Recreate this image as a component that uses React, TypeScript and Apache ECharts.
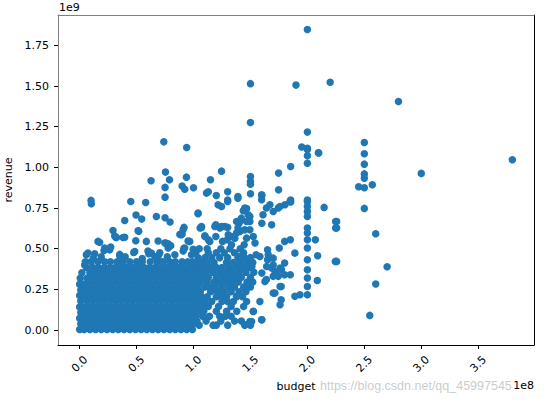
import React, { useEffect, useRef } from "react";
import * as echarts from "echarts";

// budget in units of 1e8, revenue in units of 1e9
const xTicks = [0, 0.5, 1, 1.5, 2, 2.5, 3, 3.5];
const yTicks = [0, 0.25, 0.5, 0.75, 1, 1.25, 1.5, 1.75];
const xRange = [-0.19, 3.99];
const yRange = [-0.092, 1.937];

// dense core (budget 0 - 1.0, revenue 0 - 0.38), read as rows
const coreRevenue = [0.004, 0.038, 0.072, 0.108, 0.142, 0.178, 0.212, 0.246, 0.282, 0.318, 0.352, 0.384];
const coreBudget = [
  [0, 0.04, 0.09, 0.14, 0.19, 0.24, 0.29, 0.34, 0.39, 0.44, 0.49, 0.54, 0.59, 0.64, 0.69, 0.74, 0.79, 0.84, 0.89, 0.94, 0.99],
  [0.01, 0.065, 0.115, 0.165, 0.215, 0.265, 0.315, 0.365, 0.415, 0.465, 0.515, 0.565, 0.615, 0.665, 0.715, 0.765, 0.815, 0.865, 0.915, 0.965, 1.0],
  [0, 0.04, 0.09, 0.14, 0.19, 0.24, 0.29, 0.34, 0.39, 0.44, 0.49, 0.54, 0.59, 0.64, 0.69, 0.74, 0.79, 0.84, 0.89, 0.94, 0.99],
  [0.01, 0.065, 0.115, 0.165, 0.215, 0.265, 0.315, 0.365, 0.415, 0.465, 0.515, 0.565, 0.615, 0.665, 0.715, 0.765, 0.815, 0.865, 0.915, 0.965, 1.0],
  [0, 0.04, 0.09, 0.14, 0.19, 0.24, 0.29, 0.34, 0.39, 0.44, 0.49, 0.54, 0.59, 0.64, 0.69, 0.74, 0.79, 0.84, 0.89, 0.94, 0.99],
  [0.01, 0.065, 0.115, 0.165, 0.215, 0.265, 0.315, 0.365, 0.415, 0.465, 0.515, 0.565, 0.615, 0.665, 0.715, 0.765, 0.815, 0.865, 0.915, 0.965, 1.0],
  [0, 0.04, 0.09, 0.14, 0.19, 0.24, 0.29, 0.34, 0.39, 0.44, 0.49, 0.54, 0.59, 0.64, 0.69, 0.74, 0.79, 0.84, 0.89, 0.94, 0.99],
  [0.01, 0.065, 0.115, 0.165, 0.215, 0.265, 0.315, 0.365, 0.415, 0.465, 0.515, 0.565, 0.615, 0.665, 0.715, 0.765, 0.815, 0.865, 0.915, 0.965, 1.0],
  [0, 0.04, 0.09, 0.14, 0.19, 0.24, 0.29, 0.34, 0.39, 0.44, 0.49, 0.54, 0.59, 0.64, 0.69, 0.74, 0.79, 0.84, 0.89, 0.94, 0.99],
  [0.005, 0.065, 0.115, 0.165, 0.215, 0.265, 0.315, 0.365, 0.415, 0.465, 0.515, 0.565, 0.615, 0.665, 0.715, 0.765, 0.815, 0.865, 0.915, 0.965, 1.0],
  [0.02, 0.09, 0.14, 0.19, 0.24, 0.29, 0.34, 0.39, 0.44, 0.49, 0.54, 0.59, 0.64, 0.69, 0.74, 0.79, 0.84, 0.89, 0.94, 0.99],
  [0.06, 0.115, 0.165, 0.215, 0.265, 0.315, 0.365, 0.415, 0.465, 0.515, 0.565, 0.615, 0.665, 0.715, 0.765, 0.815, 0.865, 0.915, 0.965, 1.0],
];

// upper fringe of the core (revenue 0.4 - 0.65)
const fringePoints = [
  [0.05, 0.42], [0.1, 0.42], [0.16, 0.42], [0.22, 0.42], [0.27, 0.42], [0.33, 0.42], [0.38, 0.42], [0.44, 0.42],
  [0.5, 0.42], [0.55, 0.42], [0.62, 0.42], [0.68, 0.42], [0.73, 0.42], [0.79, 0.42], [0.84, 0.42], [0.9, 0.42],
  [0.95, 0.42], [0.99, 0.42], [0.044, 0.4], [0.059, 0.463], [0.073, 0.473], [0.132, 0.469], [0.214, 0.489],
  [0.264, 0.493], [0.273, 0.51], [0.352, 0.457], [0.352, 0.465], [0.475, 0.477], [0.484, 0.483], [0.6, 0.486],
  [0.607, 0.469], [0.63, 0.473], [0.66, 0.452], [0.689, 0.452], [0.704, 0.475], [0.777, 0.504], [0.836, 0.463],
  [0.909, 0.486], [0.915, 0.502], [0.923, 0.504], [0.982, 0.463], [0.997, 0.496], [0.4, 0.45], [0.55, 0.44],
  [0.77, 0.45], [0.19, 0.45], [0.12, 0.44], [0.22, 0.504], [0.161, 0.545], [0.176, 0.539], [0.323, 0.569],
  [0.381, 0.569], [0.317, 0.571], [0.396, 0.571], [0.308, 0.578], [0.293, 0.612], [0.519, 0.608], [0.513, 0.61],
  [0.493, 0.549], [0.586, 0.545], [0.689, 0.547], [0.748, 0.535], [0.756, 0.535], [0.777, 0.53], [0.8, 0.518],
  [0.894, 0.586], [0.88, 0.588], [0.9, 0.59], [0.909, 0.618], [0.917, 0.631], [0.952, 0.547], [0.967, 0.545],
];

// semi-dense block (budget 1.0 - 1.55, revenue 0 - 0.5)
const midRevenue = [0.03, 0.055, 0.085, 0.115, 0.145, 0.175, 0.205, 0.235, 0.265, 0.295, 0.325, 0.355, 0.385, 0.415, 0.445, 0.475, 0.5];
const midBudget = [
  [1.05, 1.172, 1.2, 1.3, 1.45, 1.5],
  [1.03, 1.11, 1.24, 1.36, 1.42],
  [1.02, 1.08, 1.14, 1.23, 1.28, 1.33],
  [1.04, 1.09, 1.2, 1.29, 1.38, 1.525],
  [1.02, 1.07, 1.13, 1.22, 1.33, 1.44],
  [1.05, 1.1, 1.16, 1.25, 1.3, 1.35, 1.466, 1.583],
  [1.03, 1.07, 1.12, 1.2, 1.24, 1.29, 1.378, 1.43],
  [1.02, 1.06, 1.15, 1.21, 1.27, 1.33, 1.4, 1.46],
  [1.04, 1.1, 1.14, 1.19, 1.25, 1.31, 1.36, 1.44, 1.5],
  [1.02, 1.06, 1.12, 1.18, 1.22, 1.28, 1.34, 1.393, 1.47, 1.52],
  [1.04, 1.09, 1.13, 1.2, 1.26, 1.3, 1.37, 1.42, 1.5],
  [1.02, 1.06, 1.11, 1.17, 1.23, 1.28, 1.34, 1.4, 1.46, 1.53],
  [1.03, 1.08, 1.14, 1.2, 1.25, 1.31, 1.37, 1.43, 1.49],
  [1.02, 1.07, 1.12, 1.18, 1.29, 1.35, 1.41, 1.47, 1.52],
  [1.04, 1.1, 1.16, 1.23, 1.3, 1.39, 1.45, 1.5],
  [1.02, 1.13, 1.2, 1.27, 1.36, 1.44],
  [1.05, 1.12, 1.24, 1.32, 1.41],
];

// scattered points
const sparsePoints = [
  [0.739, 1.157], [0.94, 1.122], [0.754, 0.971], [0.938, 0.94], [0.627, 0.918], [0.789, 0.924], [0.75, 0.877],
  [0.9, 0.885], [0.923, 0.866], [1.0, 0.875], [0.75, 0.817], [0.1, 0.797], [0.103, 0.776], [0.449, 0.79],
  [0.58, 0.784], [0.396, 0.674], [0.495, 0.707], [0.545, 0.682], [0.674, 0.698], [0.75, 0.69], [0.794, 0.664],
  [1.04, 0.715], [1.07, 0.631], [1.058, 0.627], [1.04, 0.719],
  [1.114, 0.842], [1.2, 0.827], [1.3, 0.85], [1.39, 0.821], [1.246, 0.977], [1.149, 0.924], [1.13, 0.85],
  [1.246, 0.76], [1.3, 0.79], [1.196, 0.647], [1.246, 0.637], [1.3, 0.631], [1.196, 0.575], [1.1, 0.58],
  [1.13, 0.555], [1.255, 0.545], [1.296, 0.555], [1.334, 0.575], [1.378, 0.596], [1.407, 0.606], [1.437, 0.733],
  [1.466, 0.747], [1.495, 0.698], [1.495, 0.667], [1.416, 0.678], [1.4, 0.657], [1.495, 0.616], [1.525, 0.575],
  [1.54, 0.535], [1.216, 0.77], [1.39, 0.81], [1.45, 0.75], [1.48, 0.709], [1.466, 0.667], [1.42, 0.688],
  [1.378, 0.667], [1.39, 0.627], [1.45, 0.616], [1.466, 0.565], [1.445, 0.524], [1.07, 0.637], [1.1, 0.575],
  [1.143, 0.545], [1.187, 0.637], [1.231, 0.627], [1.275, 0.637], [1.305, 0.586], [1.363, 0.565], [1.334, 0.524],
  [1.3, 0.8], [1.5, 1.515], [1.5, 1.276], [1.5, 0.944], [1.5, 0.913], [1.5, 0.897], [1.5, 0.838], [1.6, 0.827],
  [1.598, 0.832], [1.598, 0.801], [1.671, 0.77], [1.7, 0.729], [1.759, 0.76], [1.803, 0.77], [1.847, 0.79],
  [1.747, 0.965], [1.747, 0.862], [1.853, 1.006], [1.95, 1.125], [2.1, 1.088], [2.0, 1.848], [1.9, 1.506],
  [2.2, 1.524], [2.096, 1.09], [1.61, 0.709], [1.6, 0.657], [1.686, 0.647], [1.64, 0.75], [1.744, 0.75],
  [1.853, 0.787], [1.853, 0.8], [2.147, 0.754], [2.248, 0.667], [2.248, 0.627], [2.245, 0.422], [2.07, 0.555],
  [2.09, 0.457], [2.087, 0.305], [1.753, 0.504], [1.8, 0.545], [1.85, 0.555], [1.89, 0.473], [1.8, 0.412],
  [1.76, 0.381], [1.65, 0.493], [1.65, 0.432], [1.6, 0.35], [1.7, 0.33], [1.76, 0.268], [1.7, 0.227],
  [1.76, 0.156], [1.89, 0.207], [1.935, 0.217], [1.513, 0.391], [1.583, 0.452], [1.395, 0.452], [1.407, 0.412],
  [1.334, 0.33], [1.378, 0.207], [1.525, 0.114], [1.598, 0.063], [1.451, 0.033], [1.495, 0.053],
  [1.773, 0.371], [1.8, 0.34], [1.744, 0.33], [1.715, 0.36], [1.686, 0.381], [1.642, 0.391], [1.627, 0.299],
  [1.64, 0.31], [1.7, 0.4], [1.73, 0.34], [1.77, 0.268], [1.715, 0.227], [1.77, 0.186], [1.85, 0.34],
  [1.656, 0.463], [1.7, 0.442], [1.55, 0.463], [1.51, 0.053], [1.6, 0.063],
  [2.5, 1.153], [2.5, 1.084], [2.5, 1.02], [2.5, 0.96], [2.5, 0.934], [2.5, 0.875], [2.45, 0.881], [2.57, 0.893],
  [2.5, 0.748], [2.8, 1.405], [3.8, 1.047], [3.0, 0.963], [2.257, 0.667], [2.257, 0.627], [2.6, 0.592],
  [2.257, 0.422], [2.7, 0.389], [2.6, 0.283], [2.548, 0.09],
];

// the many films with a budget of exactly 2.0e8
const budget2Revenue = [1.217, 1.11, 1.118, 1.071, 1.026, 0.8, 0.79, 0.76, 0.729, 0.698, 0.627, 0.596, 0.555, 0.504, 0.432, 0.371, 0.32, 0.268, 0.217];

const FONT = "DejaVu Sans";

export default function App() {
  const ref = useRef<HTMLDivElement>(null);
  useEffect(() => {
    if (!ref.current) return;
    const chart = echarts.init(ref.current, null, { renderer: "svg" });
    const data: number[][] = [];
    coreBudget.forEach((row, i) => row.forEach((b) => data.push([b, coreRevenue[i]])));
    fringePoints.forEach((p) => data.push(p));
    midBudget.forEach((row, i) => row.forEach((b) => data.push([b, midRevenue[i]])));
    sparsePoints.forEach((p) => data.push(p));
    budget2Revenue.forEach((r) => data.push([2.0, r]));

    const tickLabel = { fontSize: 11, color: "#000", fontFamily: FONT };
    chart.setOption({
      animation: false,
      backgroundColor: "#fff",
      grid: { left: 58, right: 10, top: 15, bottom: 58, containLabel: false, outerBoundsMode: "none" },
      xAxis: [
        {
          type: "value",
          min: xRange[0],
          max: xRange[1],
          position: "bottom",
          name: "budget",
          nameLocation: "middle",
          nameGap: 35,
          nameTextStyle: { fontSize: 11, color: "#000", fontFamily: FONT },
          axisLine: { show: true, onZero: false, lineStyle: { color: "#000", width: 1 } },
          axisTick: { show: true, length: 4, customValues: xTicks, lineStyle: { color: "#000" } },
          axisLabel: {
            ...tickLabel,
            customValues: xTicks,
            rotate: 45,
            align: "center",
            verticalAlign: "middle",
            margin: 19,
            formatter: (v: number) => v.toFixed(1),
          },
          splitLine: { show: false },
        },
        {
          type: "value",
          min: xRange[0],
          max: xRange[1],
          position: "top",
          axisLine: { show: true, onZero: false, lineStyle: { color: "#808080", width: 1 } },
          axisTick: { show: false },
          axisLabel: { show: false },
          splitLine: { show: false },
        },
      ],
      yAxis: [
        {
          type: "value",
          min: yRange[0],
          max: yRange[1],
          position: "left",
          name: "revenue",
          nameLocation: "middle",
          nameGap: 42,
          nameTextStyle: { fontSize: 11, color: "#000", fontFamily: FONT },
          axisLine: { show: true, onZero: false, lineStyle: { color: "#808080", width: 1 } },
          axisTick: { show: true, length: 4, customValues: yTicks, lineStyle: { color: "#000" } },
          axisLabel: {
            ...tickLabel,
            customValues: yTicks,
            margin: 9,
            formatter: (v: number) => v.toFixed(2),
          },
          splitLine: { show: false },
        },
        {
          type: "value",
          min: yRange[0],
          max: yRange[1],
          position: "right",
          axisLine: { show: true, onZero: false, lineStyle: { color: "#000", width: 1 } },
          axisTick: { show: false },
          axisLabel: { show: false },
          splitLine: { show: false },
        },
      ],
      graphic: [
        {
          type: "text",
          left: 59,
          top: 2,
          style: { text: "1e9", fontSize: 11, fill: "#000", fontFamily: FONT },
        },
        {
          type: "text",
          right: 10,
          top: 380,
          style: { text: "1e8", fontSize: 11, fill: "#000", fontFamily: FONT },
        },
        {
          type: "text",
          left: 320,
          top: 379,
          z: -1,
          style: {
            text: "https://blog.csdn.net/qq_45997545",
            fontSize: 12.5,
            fill: "rgba(150,150,150,0.5)",
            fontFamily: "Liberation Sans",
          },
        },
      ],
      series: [
        {
          type: "scatter",
          xAxisIndex: 0,
          yAxisIndex: 0,
          data,
          symbol: "circle",
          symbolSize: 7.5,
          itemStyle: { color: "#1f77b4", opacity: 1 },
          emphasis: { disabled: true },
        },
      ],
    });
    return () => chart.dispose();
  }, []);
  return <div ref={ref} style={{ width: 544, height: 403, position: "absolute", left: 0, top: 0 }} />;
}
